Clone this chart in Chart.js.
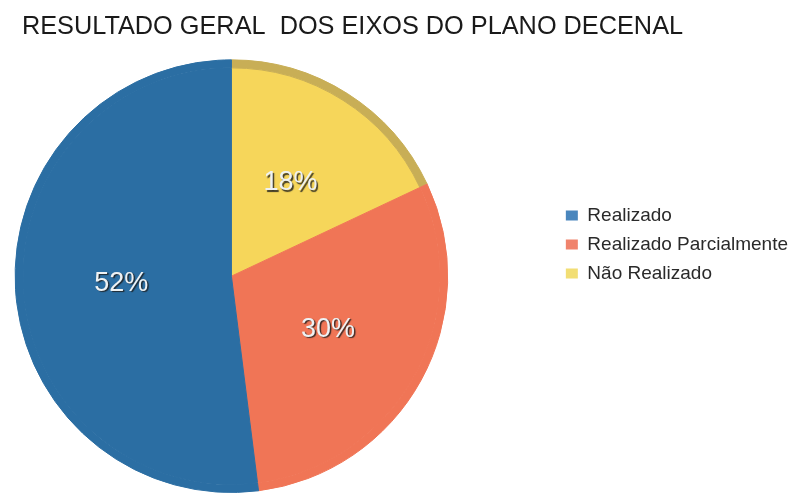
<!DOCTYPE html>
<html>
<head>
<meta charset="utf-8">
<script src="https://cdn.jsdelivr.net/npm/chart.js@4"></script>
<style>
  html, body { margin: 0; padding: 0; background: #fff; overflow: hidden; }
  /* canvas is wider than the window so the pie sits left of the legend like the original */
  #wrap { position: absolute; left: -93px; top: 0; width: 891px; height: 493px; }
</style>
</head>
<body>
<div id="wrap"><canvas id="pieChart"></canvas></div>
<script>
const chartTitle = 'RESULTADO GERAL  DOS EIXOS DO PLANO DECENAL';
const categories = ['Realizado', 'Realizado Parcialmente', 'Não Realizado'];
const percentages = [52, 30, 18];

const sliceColors = ['#2b6ea3', '#f07556', '#f6d65a'];
const rimColors = ['#2b6ea3', '#f07556', '#c8ae56'];
const legendColors = ['#4a86bd', '#f0836c', '#f2de74'];

// the original runs counter-clockwise from 12 o'clock, Chart.js goes clockwise,
// so feed the slices in reverse
const order = [2, 1, 0];
const pick = arr => order.map(i => arr[i]);

const sliceLabels = {
  id: 'sliceLabels',
  afterDatasetsDraw(chart) {
    const ctx = chart.ctx;
    const outer = chart.getDatasetMeta(0).data;
    const values = chart.data.datasets[1].data;
    ctx.save();
    ctx.font = '27px "Liberation Sans", Arial, sans-serif';
    ctx.textAlign = 'center';
    ctx.textBaseline = 'middle';
    ctx.shadowColor = 'rgba(30,30,30,0.85)';
    ctx.shadowOffsetX = 1.5;
    ctx.shadowOffsetY = 1.5;
    ctx.shadowBlur = 1;
    ctx.fillStyle = '#eef2f4';
    outer.forEach((arc, i) => {
      const { x, y, startAngle, endAngle, outerRadius } = arc.getProps(['x', 'y', 'startAngle', 'endAngle', 'outerRadius']);
      const mid = (startAngle + endAngle) / 2;
      const r = outerRadius * 0.51;
      ctx.fillText(values[i] + '%', x + Math.cos(mid) * r, y + Math.sin(mid) * r);
    });
    ctx.restore();
  }
};

const ctx = document.getElementById('pieChart').getContext('2d');
new Chart(ctx, {
  type: 'pie',
  data: {
    labels: pick(categories),
    datasets: [
      {
        // thin darker rim for the tilted look
        data: pick(percentages),
        backgroundColor: pick(rimColors),
        borderColor: pick(rimColors),
        borderWidth: 1,
        weight: 1
      },
      {
        data: pick(percentages),
        backgroundColor: pick(sliceColors),
        borderColor: pick(sliceColors),
        borderWidth: 1,
        weight: 26
      }
    ]
  },
  options: {
    responsive: true,
    maintainAspectRatio: false,
    animation: false,
    layout: { padding: 0 },
    plugins: {
      title: {
        display: true,
        text: chartTitle,
        color: '#1a1a1a',
        font: { family: '"Liberation Sans", Arial, sans-serif', size: 25.3, weight: 'normal' },
        padding: { top: 12, bottom: 17 }
      },
      legend: {
        position: 'right',
        align: 'start',
        title: {
          display: true,
          text: ' ',
          font: { size: 10 },
          padding: { top: 184, bottom: 0 }
        },
        labels: {
          boxWidth: 12,
          boxHeight: 10,
          padding: 10,
          color: '#2a2a2a',
          font: { family: '"Liberation Sans", Arial, sans-serif', size: 19 },
          generateLabels: () => categories.map((c, i) => ({
            text: c,
            fillStyle: legendColors[i],
            strokeStyle: legendColors[i],
            lineWidth: 0,
            fontColor: '#2a2a2a',
            hidden: false,
            index: i
          }))
        }
      },
      tooltip: { enabled: false }
    }
  },
  plugins: [sliceLabels]
});
</script>
</body>
</html>
